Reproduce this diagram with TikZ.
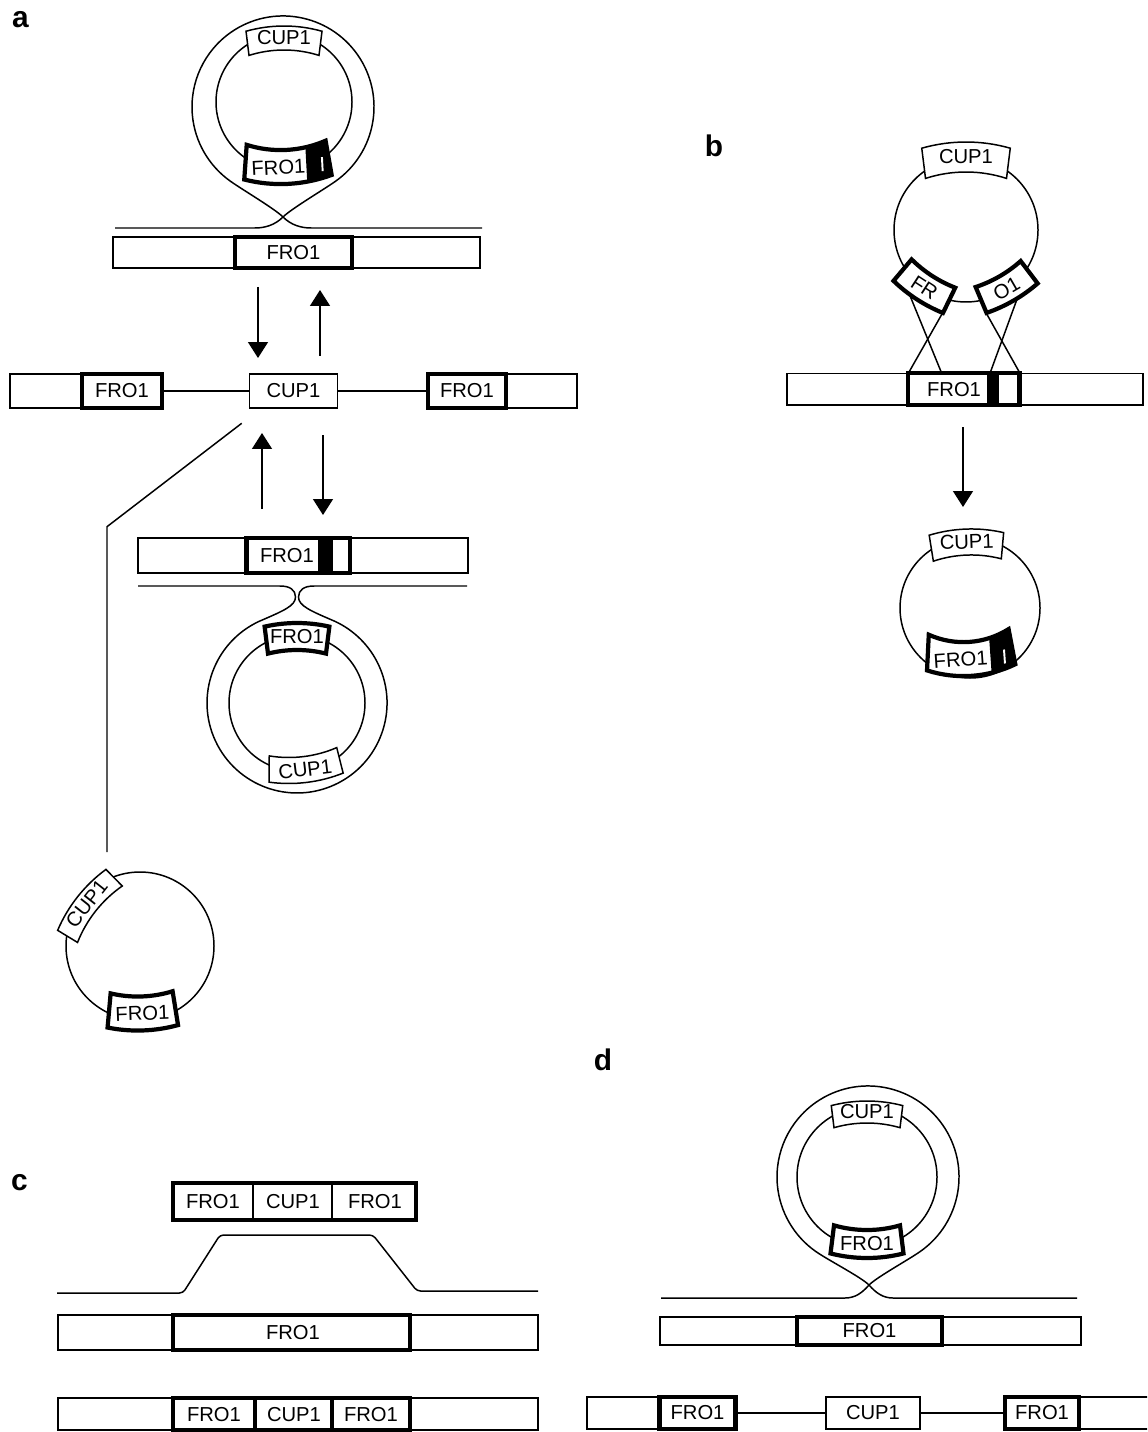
\documentclass[tikz,border=0pt]{standalone}
\usepackage{fontspec}
\setmainfont{Liberation Sans}
\usetikzlibrary{arrows.meta}
\newcommand{\lblfont}{\fontsize{11.5}{13}\selectfont}
\newcommand{\plfont}{\fontsize{17}{19}\selectfont\bfseries}
% curved box on a ring: [text offset]{center}{angle}{mid radius}{thickness}{inner width}{style}{name}{text}
\newcommand{\gbox}[9][0]{%
  \pgfmathsetmacro\gbRi{2*#4-#5/2}%
  \pgfmathsetmacro\gbRo{2*#4+#5/2}%
  \pgfmathsetmacro\gbbi{asin(#6/(2*\gbRi))}%
  \pgfmathsetmacro\gbbo{asin((#6+0.25*#5)/(2*\gbRo))}%
  \pgfmathsetmacro\gbtr{sin(#3)>0 ? #3-90 : #3+90}%
  \begin{scope}[shift={#2}, rotate=#3-90]
    \begin{scope}[shift={(0,-#4)}]
      \filldraw[fill=white,#7] ({90+\gbbi}:\gbRi) arc[start angle={90+\gbbi}, end angle={90-\gbbi}, radius=\gbRi]
        -- ({90-\gbbo}:\gbRo) arc[start angle={90-\gbbo}, end angle={90+\gbbo}, radius=\gbRo] -- cycle;
    \end{scope}
    \node[lbl, rotate=\gbtr] (#8) at (#1,#4) {#9};
  \end{scope}}
% black part of a curved box: {center}{angle}{mid radius}{thickness}{x1}{x2 inner}{x2 outer}
\newcommand{\gbblack}[7]{%
  \pgfmathsetmacro\gbRi{2*#3-#4/2}%
  \pgfmathsetmacro\gbRo{2*#3+#4/2}%
  \pgfmathsetmacro\gbya{\gbRi*sqrt(1-((#5)/\gbRi)^2)}%
  \pgfmathsetmacro\gbyb{\gbRi*sqrt(1-((#6)/\gbRi)^2)}%
  \pgfmathsetmacro\gbyc{\gbRo*sqrt(1-((#7)/\gbRo)^2)}%
  \pgfmathsetmacro\gbyd{\gbRo*sqrt(1-((#5)/\gbRo)^2)}%
  \begin{scope}[shift={#1}, rotate=#2-90, shift={(0,-#3)}]
    \fill (#5,\gbya) -- (#6,\gbyb) -- (#7,\gbyc) -- (#5,\gbyd) -- cycle;
  \end{scope}}
% white slit: {center}{angle}{x}{r1}{r2}
\newcommand{\gbslit}[5]{%
  \begin{scope}[shift={#1}, rotate=#2-90]
    \draw[white, line width=1.1pt] (#3,#4) -- (#3,#5);
  \end{scope}}
\begin{document}
\begin{tikzpicture}[x=0.02cm, y=0.02cm,
  tl/.style={line width=0.85pt},
  tk/.style={line width=2.4pt},
  lbl/.style={font=\lblfont, inner sep=0pt},
  plabel/.style={font=\plfont, inner sep=0pt},
  tkbox/.style={draw, tk, fill=white, rectangle, inner sep=0pt, font=\lblfont},
  tlbox/.style={draw, tl, fill=white, rectangle, inner sep=0pt, font=\lblfont},
  arr/.style={tl, -{Triangle[width=0.4cm, length=0.32cm]}}]
\useasboundingbox (0,0) rectangle (1147,-1432);
\clip (0,0) rectangle (1147,-1432);

% panel labels
\node[plabel] (la) at (20.5,-20) {a};
\node[plabel] (lb) at (714,-146) {b};
\node[plabel] (lc) at (19.5,-1183) {c};
\node[plabel] (ld) at (603,-1060) {d};

% ================= panel a, top =================
\draw[tl] (115,-228) -- (255,-228) .. controls (265,-228) and (275,-225) .. (283,-217)
  .. controls (291,-209) and (322.9,-190.1) .. (335.2,-181.5)
  arc[start angle=-55, end angle=235, radius=91]
  .. controls (243.1,-190.1) and (275,-209) .. (283,-217)
  .. controls (291,-225) and (301,-228) .. (311,-228) -- (482,-228);
\draw[tl] (284,-102) circle[radius=68];
\gbox{(284,-102)}{90}{64}{24}{70}{tl}{acupA}{CUP1}
\gbox[9]{(284,-102)}{273}{65}{34}{79}{tk}{afroA}{FRO1}
\gbblack{(284,-102)}{273}{65}{34}{-19}{-39.5}{-43.75}
\gbslit{(284,-102)}{273}{-35}{57}{71}

\draw[tl, fill=white] (113,-237) rectangle (480,-268);
\node[tkbox, minimum width=2.34cm, minimum height=0.62cm] (abarA) at (293.5,-252.5) {FRO1};

% arrows
\coordinate (ar1s) at (258,-287); \coordinate (ar1e) at (258,-358);
\coordinate (ar2s) at (320,-356); \coordinate (ar2e) at (320,-290);
\draw[arr] (ar1s) -- (ar1e);
\draw[arr] (ar2s) -- (ar2e);

% middle row
\draw[tl] (10,-374) rectangle (82,-408);
\node[tkbox, minimum width=1.6cm, minimum height=0.68cm] (m1) at (122,-391) {FRO1};
\node[tlbox, minimum width=1.76cm, minimum height=0.68cm] (m2) at (293.5,-391) {CUP1};
\node[tkbox, minimum width=1.56cm, minimum height=0.68cm] (m3) at (467,-391) {FRO1};
\draw[tl] (506,-374) rectangle (577,-408);
\draw[tl] (m1.east) -- (m2.west);
\draw[tl] (m2.east) -- (m3.west);

% diagonal to excised circle
\coordinate (dg1) at (241.7,-423.3);
\coordinate (dg2) at (107,-526.7);
\coordinate (dg3) at (107,-852);
\draw[tl] (dg1) -- (dg2) -- (dg3);

% lower arrows
\coordinate (ar3s) at (262,-509); \coordinate (ar3e) at (262,-433);
\coordinate (ar4s) at (323,-435); \coordinate (ar4e) at (323,-515);
\draw[arr] (ar3s) -- (ar3e);
\draw[arr] (ar4s) -- (ar4e);

% lower bar
\draw[tl] (138,-538) rectangle (468,-573);
\fill (318,-538) rectangle (333,-573);
\draw[tk] (246.5,-538) rectangle (350,-573);
\node[lbl] (abarB) at (287,-555.5) {FRO1};

% pinched line and lower ring
\draw[tl] (138,-586) -- (280,-586) .. controls (290,-586) and (295.5,-590) .. (295.5,-597)
  .. controls (295.5,-606) and (283,-611) .. (259,-621.4)
  arc[start angle=115, end angle=425, radius=90]
  .. controls (311,-611) and (298.5,-606) .. (298.5,-597)
  .. controls (298.5,-590) and (304,-586) .. (314,-586) -- (467,-586);
\draw[tl] (297,-703) circle[radius=68];
\gbox{(297,-703)}{90}{66.5}{27}{58}{tk}{afroB}{FRO1}
\gbox{(297,-703)}{277}{67}{26}{68}{tl}{acupB}{CUP1}

% excised circle
\draw[tl] (140,-946) circle[radius=74];
\gbox{(140,-946)}{141.6}{68}{23}{72}{tl}{acupC}{CUP1}
\gbox{(140,-946)}{272}{67.5}{34}{62}{tk}{afroC}{FRO1}

% ================= panel b =================
\draw[tl] (966,-230) circle[radius=72];
% crossing lines
\coordinate (x1a) at (903,-278.6);   \coordinate (bx1) at (941.7,-373.3);
\coordinate (x1b) at (942,-314);     \coordinate (bx2) at (908.3,-373.3);
\coordinate (x2a) at (987,-314.5);   \coordinate (bx3) at (1020,-373.3);
\coordinate (x2b) at (1021.5,-286.8);\coordinate (bx4) at (990,-373.3);
\draw[tl] (x1a) -- (bx1);
\draw[tl] (x1b) -- (bx2);
\draw[tl] (x2a) -- (bx3);
\draw[tl] (x2b) -- (bx4);
\gbox{(966,-230)}{90}{73}{30}{81}{tl}{bcupA}{CUP1}
\gbox{(963,-228)}{237}{71}{28}{52}{tk}{bfr}{FR}
\gbox{(971,-227)}{300}{71}{28}{52}{tk}{bo}{O1}

\draw[tl, fill=white] (787,-373.3) rectangle (1143,-405);
\fill (987,-373.3) rectangle (999,-405);
\draw[tk] (908.3,-373.3) rectangle (1019.5,-405);
\node[lbl] (bbar) at (954,-389.5) {FRO1};

\coordinate (ar5s) at (963,-427); \coordinate (ar5e) at (963,-507);
\draw[arr] (ar5s) -- (ar5e);

\draw[tl] (970,-608) circle[radius=70];
\gbox{(969,-608)}{92}{66}{26}{68}{tl}{bcupB}{CUP1}
\gbox[10]{(967,-608)}{274}{51}{34}{80}{tk}{bfroB}{FRO1}
\gbblack{(967,-608)}{274}{51}{34}{-20}{-40}{-44.25}
\gbslit{(967,-608)}{274}{-34}{44}{58}

% ================= panel c =================
\draw[tk, fill=white] (173,-1183) rectangle (416,-1220);
\draw[line width=1.2pt] (253,-1183) -- (253,-1220);
\draw[line width=1.2pt] (332,-1183) -- (332,-1220);
\node[lbl] (ca1) at (213,-1202) {FRO1};
\node[lbl] (ca2) at (293,-1202) {CUP1};
\node[lbl] (ca3) at (375,-1202) {FRO1};

\draw[tl, rounded corners=2pt] (57,-1293) -- (183,-1293) -- (220,-1235) -- (373,-1235) -- (417,-1291) -- (538,-1291);

\draw[tl] (58,-1315) rectangle (538,-1350);
\draw[tk] (173,-1315) rectangle (410,-1350);
\node[lbl] (cbar) at (293,-1332.5) {FRO1};

\draw[tl] (58,-1398) rectangle (538,-1430);
\draw[tk] (173,-1398) rectangle (410,-1430);
\draw[line width=1.8pt] (255,-1398) -- (255,-1430);
\draw[line width=1.8pt] (332,-1398) -- (332,-1430);
\node[lbl] (cb1) at (214,-1415) {FRO1};
\node[lbl] (cb2) at (294,-1415) {CUP1};
\node[lbl] (cb3) at (371,-1415) {FRO1};

% ================= panel d =================
\draw[tl] (661,-1298) -- (845,-1298) .. controls (855,-1298) and (862,-1293) .. (869,-1285)
  .. controls (877,-1277) and (907.9,-1260.1) .. (920.2,-1251.5)
  arc[start angle=-55, end angle=235, radius=91]
  .. controls (828.1,-1260.1) and (861,-1277) .. (869,-1285)
  .. controls (876,-1293) and (883,-1298) .. (893,-1298) -- (1077,-1298);
\draw[tl] (867,-1177) circle[radius=70];
\gbox{(867,-1177)}{90}{65}{22}{66}{tl}{dcup}{CUP1}
\gbox{(867,-1177)}{270}{67}{28}{66}{tk}{dfro}{FRO1}

\draw[tl] (660,-1317) rectangle (1081,-1345);
\node[tkbox, minimum width=2.894cm, minimum height=0.56cm] (dbar) at (869.5,-1331) {FRO1};

\draw[tl] (587,-1397) rectangle (659.6,-1429);
\node[tkbox, minimum width=1.518cm, minimum height=0.64cm] (d1) at (697.5,-1413) {FRO1};
\node[tlbox, minimum width=1.88cm, minimum height=0.64cm] (d2) at (873,-1413) {CUP1};
\node[tkbox, minimum width=1.48cm, minimum height=0.64cm] (d3) at (1042,-1413) {FRO1};
\draw[tl] (1079,-1397) rectangle (1170,-1429);
\draw[tl] (d1.east) -- (d2.west);
\draw[tl] (d2.east) -- (d3.west);
\end{tikzpicture}
\end{document}
